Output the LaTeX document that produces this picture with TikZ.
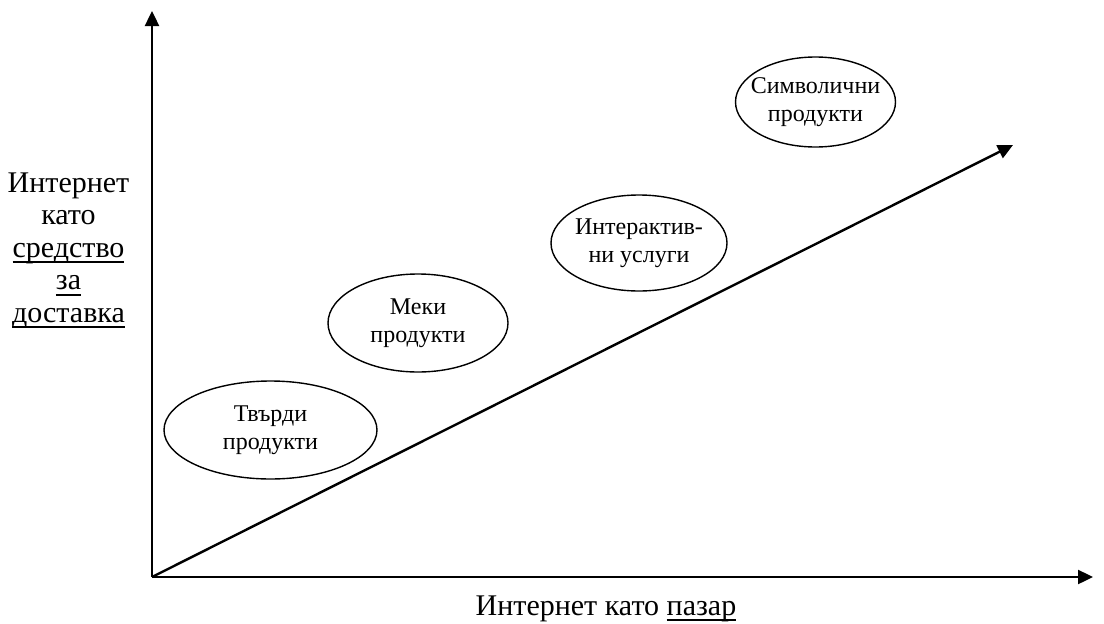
\documentclass[tikz,border=0pt]{standalone}
\usepackage{fontspec}
\setmainfont{Liberation Serif}
\usetikzlibrary{arrows.meta}
% thick underline placed a few points below the baseline
\newcommand\uln[1]{\setbox0\hbox{#1}\rlap{\rule[-6pt]{\wd0}{1.7pt}}\box0}
\tikzset{
  axis/.style={line width=2.4pt,-{Triangle[length=15pt,width=14pt]}},
  rim/.style={draw,line width=1.4pt},
  label/.style={font=\fontsize{24}{27.5}\selectfont,align=center,inner sep=0pt},
  caption/.style={font=\fontsize{30}{32.5}\selectfont,align=center,inner sep=0pt}
}
\begin{document}
\begin{tikzpicture}[x=1pt,y=-1pt]
  \useasboundingbox (0,0) rectangle (1104,624);
  % axes and the diagonal trend
  \coordinate (o) at (152,577);
  \coordinate (ytop) at (152,11);
  \coordinate (xend) at (1093,577);
  \coordinate (dend) at (1013,145);
  \draw[axis] (o) -- (ytop);
  \draw[axis] (o) -- (xend);
  \draw[axis] (o) -- (dend);
  % product classes
  \draw[rim] (270.5,430) ellipse [x radius=106.5, y radius=49];
  \node[label] (hard) at (270.5,430) {Твърди\\продукти};
  \draw[rim] (418,323) ellipse [x radius=90, y radius=49];
  \node[label] (soft) at (418,323) {Меки\\продукти};
  \draw[rim] (639,243) ellipse [x radius=88, y radius=48];
  \node[label] (inter) at (639,243) {Интерактив-\\ни услуги};
  \draw[rim] (815.5,102) ellipse [x radius=80, y radius=45];
  \node[label] (symb) at (815.5,102) {Символични\\продукти};
  % axis captions
  \node[caption,anchor=base] (ycap) at (68.5,322) {Интернет\\като\\\uln{средство}\\\uln{за}\\\uln{доставка}};
  \node[caption,anchor=base] (xcap) at (606,615) {Интернет като \uln{пазар}};
\end{tikzpicture}
\end{document}
